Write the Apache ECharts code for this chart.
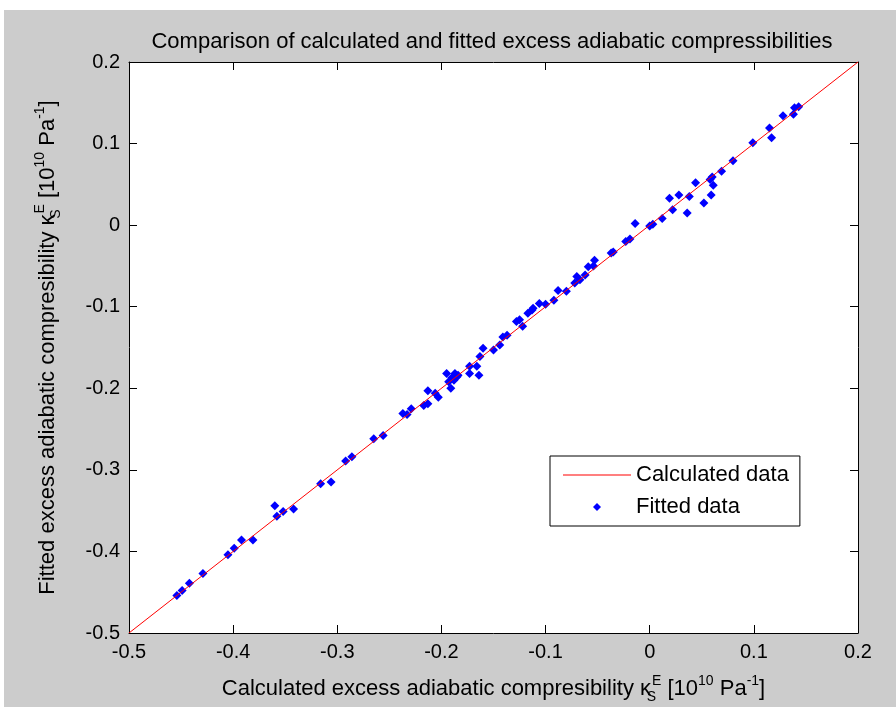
<!DOCTYPE html>
<html>
<head>
<meta charset="utf-8">
<script src="https://cdn.jsdelivr.net/npm/echarts@6/dist/echarts.min.js"></script>
<style>
  html, body { margin: 0; padding: 0; background: #ffffff; }
  .figBg { position: absolute; left: 4px; top: 10px; right: 0; bottom: 0; background: #cccccc; }
  .full { position: absolute; left: 0; top: 0; width: 896px; height: 707px; }
</style>
</head>
<body>
<div class="figBg"></div>
<div id="chart" class="full"></div>
<script>
  // calculated (x) vs fitted (y) excess adiabatic compressibility, 10^10 Pa^-1
  var calcX = [
    -0.454, -0.449, -0.442, -0.429, -0.405, -0.399, -0.392, -0.381, -0.360, -0.358,
    -0.352, -0.342, -0.316, -0.306, -0.292, -0.286, -0.265, -0.256, -0.237, -0.233,
    -0.229, -0.217, -0.213, -0.213, -0.206, -0.203, -0.195, -0.193, -0.190, -0.187,
    -0.185, -0.191, -0.188, -0.184, -0.173, -0.166, -0.173, -0.164, -0.163, -0.160,
    -0.150, -0.144, -0.141, -0.137, -0.128, -0.125, -0.122, -0.117, -0.113, -0.112,
    -0.106, -0.100, -0.092, -0.088, -0.080, -0.072, -0.070, -0.067, -0.062, -0.059,
    -0.054, -0.053, -0.037, -0.035, -0.023, -0.019, -0.014, 0.000, 0.003, 0.012,
    0.019, 0.022, 0.028, 0.036, 0.038, 0.044, 0.052, 0.059, 0.058, 0.060,
    0.061, 0.069, 0.080, 0.099, 0.115, 0.117, 0.128, 0.138, 0.139, 0.143
  ];
  var fitY = [
    -0.454, -0.448, -0.439, -0.427, -0.404, -0.396, -0.386, -0.386, -0.344, -0.357,
    -0.351, -0.348, -0.317, -0.315, -0.289, -0.284, -0.262, -0.258, -0.231, -0.232,
    -0.225, -0.221, -0.219, -0.203, -0.206, -0.211, -0.182, -0.192, -0.187, -0.182,
    -0.186, -0.200, -0.190, -0.184, -0.173, -0.173, -0.182, -0.184, -0.161, -0.151,
    -0.153, -0.147, -0.137, -0.135, -0.118, -0.116, -0.124, -0.108, -0.104, -0.102,
    -0.096, -0.097, -0.092, -0.080, -0.081, -0.071, -0.063, -0.067, -0.061, -0.051,
    -0.050, -0.043, -0.034, -0.033, -0.020, -0.017, 0.002, -0.001, 0.001, 0.008,
    0.033, 0.019, 0.037, 0.015, 0.035, 0.052, 0.027, 0.037, 0.056, 0.059,
    0.049, 0.066, 0.079, 0.101, 0.119, 0.107, 0.134, 0.136, 0.144, 0.145
  ];
  // the calculated data plotted against itself
  var lineX = [-0.5, 0.2];

  var axisMin = -0.5, axisMax = 0.2, step = 0.1;

  var fitted = calcX.map(function (x, i) { return [x, fitY[i]]; });
  var calculated = lineX.map(function (x) { return [x, x]; });

  var mychart = echarts.init(document.getElementById('chart'));

  var fmt = function (v) { return String(parseFloat(v.toFixed(1))); };
  var nameRich = {
    n: { fontSize: 22, lineHeight: 30, color: '#000', fontFamily: 'Liberation Sans' },
    sup: { fontSize: 14, lineHeight: 14, verticalAlign: 'top', color: '#000', fontFamily: 'Liberation Sans' },
    sub: { fontSize: 14, lineHeight: 14, verticalAlign: 'bottom', color: '#000', fontFamily: 'Liberation Sans', width: 1 }
  };

  function makeAxis(pos, show) {
    return {
      type: 'value',
      position: pos,
      min: axisMin,
      max: axisMax,
      interval: step,
      axisLine: { show: true, onZero: false, lineStyle: { color: '#000', width: 1 } },
      axisTick: { show: true, inside: true, length: 8, lineStyle: { color: '#000' } },
      axisLabel: {
        show: show,
        color: '#000',
        fontSize: 20,
        fontFamily: 'Liberation Sans',
        margin: 9,
        formatter: fmt
      },
      splitLine: { show: false }
    };
  }

  var xBottom = makeAxis('bottom', true);
  xBottom.name = '{n|Calculated excess adiabatic compresibility κ}{sub|S}{sup|E}{n| [10}{sup|10}{n| Pa}{sup|-1}{n|]}';
  xBottom.nameLocation = 'middle';
  xBottom.nameGap = 41;
  xBottom.nameTextStyle = { rich: nameRich };

  var yLeft = makeAxis('left', true);
  yLeft.name = '{n|Fitted excess adiabatic compresibility κ}{sub|S}{sup|E}{n| [10}{sup|10}{n| Pa}{sup|-1}{n|]}';
  yLeft.nameLocation = 'middle';
  yLeft.nameRotate = 90;
  yLeft.nameGap = 66;
  yLeft.nameTextStyle = { rich: nameRich };

  var option = {
    animation: false,
    title: {
      text: 'Comparison of calculated and fitted excess adiabatic compressibilities',
      left: 487,
      top: 26,
      textAlign: 'center',
      textStyle: { color: '#000', fontSize: 22, fontWeight: 'normal', fontFamily: 'Liberation Sans' }
    },
    grid: {
      left: 129, top: 62, width: 729, height: 571,
      outerBoundsMode: 'none',
      show: true, backgroundColor: '#ffffff', borderWidth: 0
    },
    legend: {
      orient: 'vertical',
      left: 550,
      top: 456,
      backgroundColor: '#ffffff',
      borderColor: '#000',
      borderWidth: 1,
      borderRadius: 0,
      padding: [8, 11, 8, 13],
      itemGap: 10,
      itemWidth: 68,
      itemHeight: 8,
      textStyle: { color: '#000', fontSize: 22, fontFamily: 'Liberation Sans' },
      data: [
        { name: 'Calculated data', icon: 'path://M0,0L68,0L68,1L0,1Z' },
        { name: 'Fitted data', icon: 'path://M0,-1L1,0L0,1L-1,0Z' }
      ]
    },
    xAxis: [xBottom, makeAxis('top', false)],
    yAxis: [yLeft, makeAxis('right', false)],
    series: [
      {
        name: 'Calculated data',
        type: 'line',
        data: calculated,
        symbol: 'none',
        lineStyle: { color: '#ff0000', width: 1 },
        itemStyle: { color: '#ff0000' }
      },
      {
        name: 'Fitted data',
        type: 'scatter',
        data: fitted,
        symbol: 'diamond',
        symbolSize: 9,
        itemStyle: { color: '#0000ff', opacity: 1 }
      }
    ]
  };

  mychart.setOption(option);
</script>
</body>
</html>
